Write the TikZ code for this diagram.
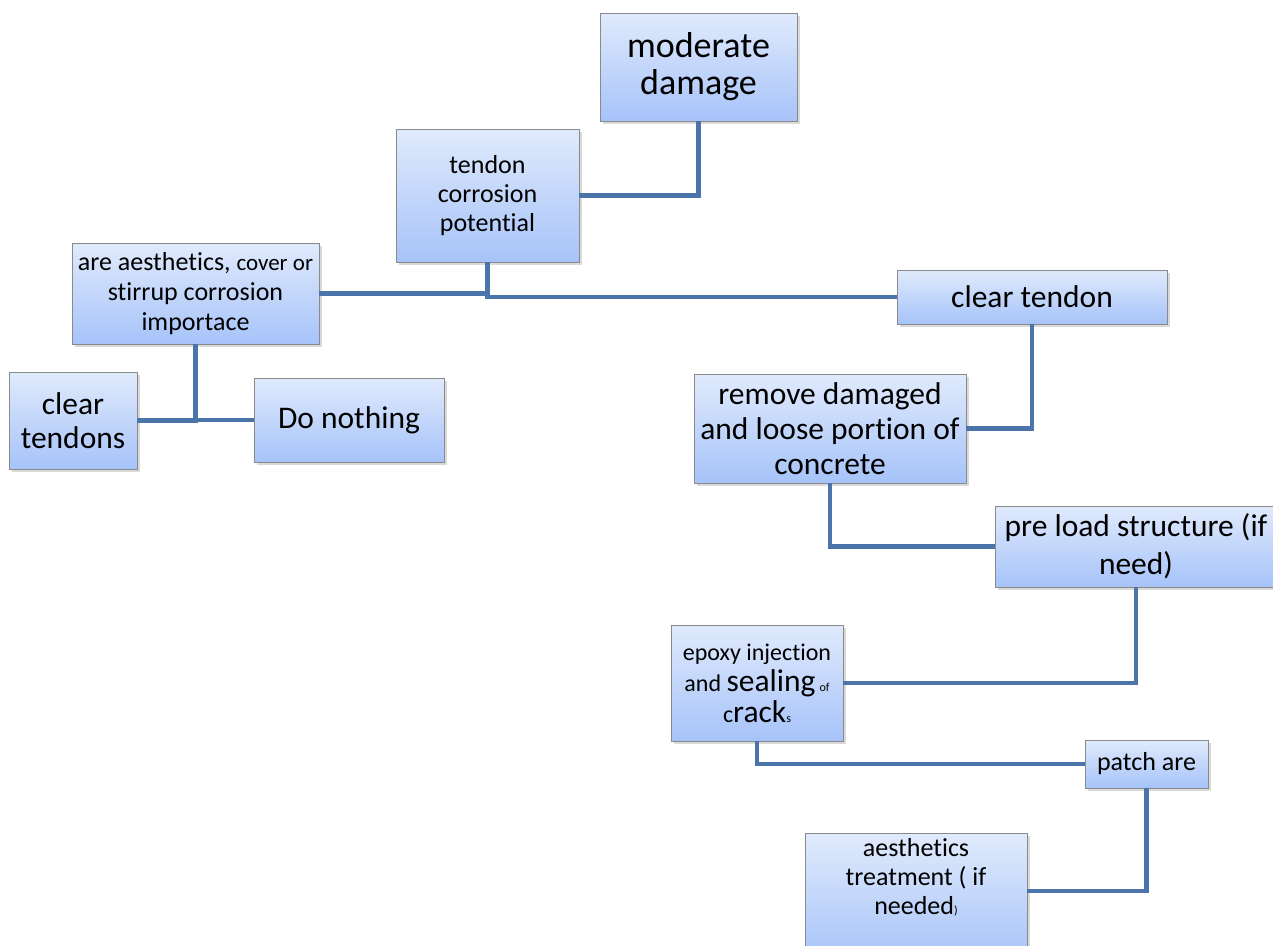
\documentclass[tikz,border=0pt]{standalone}
\usepackage{fontspec}
\setmainfont{Carlito}[Ligatures=NoCommon]
\usetikzlibrary{shadows}
\definecolor{linkblue}{HTML}{4A74AA}
\definecolor{boxtop}{HTML}{E0EAFC}
\definecolor{boxbot}{HTML}{A6C3F9}
\definecolor{boxedge}{HTML}{8A8A8A}
\newcommand\fsz[2]{\fontsize{#1}{#2}\selectfont}
\begin{document}
\begin{tikzpicture}[x=1pt,y=-1pt,
  box/.style={draw=boxedge, line width=0.8pt, top color=boxtop, bottom color=boxbot,
    drop shadow={shadow xshift=2.5pt, shadow yshift=-3pt, opacity=0.3},
    align=center, inner sep=2pt},
  txt/.style={align=center, inner sep=0pt},
  link/.style={draw=linkblue, line width=4.5pt}]
\useasboundingbox (0,0) rectangle (1273,945);

\node[box, minimum width=197pt, minimum height=108pt, font=\fsz{36}{37}] (mod) at (698.5,67)
  {moderate\\damage};
\node[box, minimum width=183pt, minimum height=133pt, font=\fsz{26}{29}] (ten) at (487.5,195.5)
  {tendon\\corrosion\\potential};
\node[box, minimum width=247pt, minimum height=101pt, font=\fsz{26}{30}] (are) at (195.5,293.5)
  {are aesthetics, {\fsz{23}{30}cover or}\\stirrup corrosion\\importace};
\node[box, minimum width=128pt, minimum height=97pt, font=\fsz{31.5}{34}] (cts) at (73,420.5)
  {clear\\tendons};
\node[box, minimum width=190pt, minimum height=84pt, font=\fsz{31.5}{34}] (dn) at (349,420)
  {Do nothing};
\node[box, minimum width=270pt, minimum height=54pt, font=\fsz{31.5}{34}] (ct) at (1032,297)
  {clear tendon};
\node[box, minimum width=272pt, minimum height=109pt, font=\fsz{31.5}{35}] (rem) at (830,428.5)
  {remove damaged\\and loose portion of\\concrete};
\node[box, minimum width=282pt, minimum height=81pt, font=\fsz{31.5}{38}] (pre) at (1136,546.5)
  {pre load structure (if\\need)};
\node[box, minimum width=172pt, minimum height=116pt, font=\fsz{24}{31}] (epx) at (757,683)
  {epoxy injection\\and {\fsz{31.5}{31}sealing}\,{\fsz{12}{31}of}\\c{\fsz{31.5}{31}rack}{\fsz{12}{31}s}};
\node[box, minimum width=123pt, minimum height=48pt, font=\fsz{26}{30}] (pat) at (1146.5,764)
  {patch are};
\node[box, minimum width=222pt, minimum height=130pt, anchor=north west] (aes) at (805,833) {};
\node[txt, font=\fsz{26}{29}] (aestxt) at (916,877)
  {aesthetics\\treatment ( if\\needed{\fsz{12}{29})}};

\coordinate (aesin) at (1027,891);

\draw[link] (mod.south) |- (ten.east);
\draw[link] (ten.south) |- (are.east);
\draw[link] (ten.south) |- (ct.west);
\draw[link] (are.south) |- (cts.east);
\draw[link] (are.south) |- (dn.west);
\draw[link] (ct.south) |- (rem.east);
\draw[link] (rem.south) |- (pre.west);
\draw[link] (pre.south) |- (epx.east);
\draw[link] (epx.south) |- (pat.west);
\draw[link] (pat.south) |- (aesin);
\end{tikzpicture}
\end{document}
